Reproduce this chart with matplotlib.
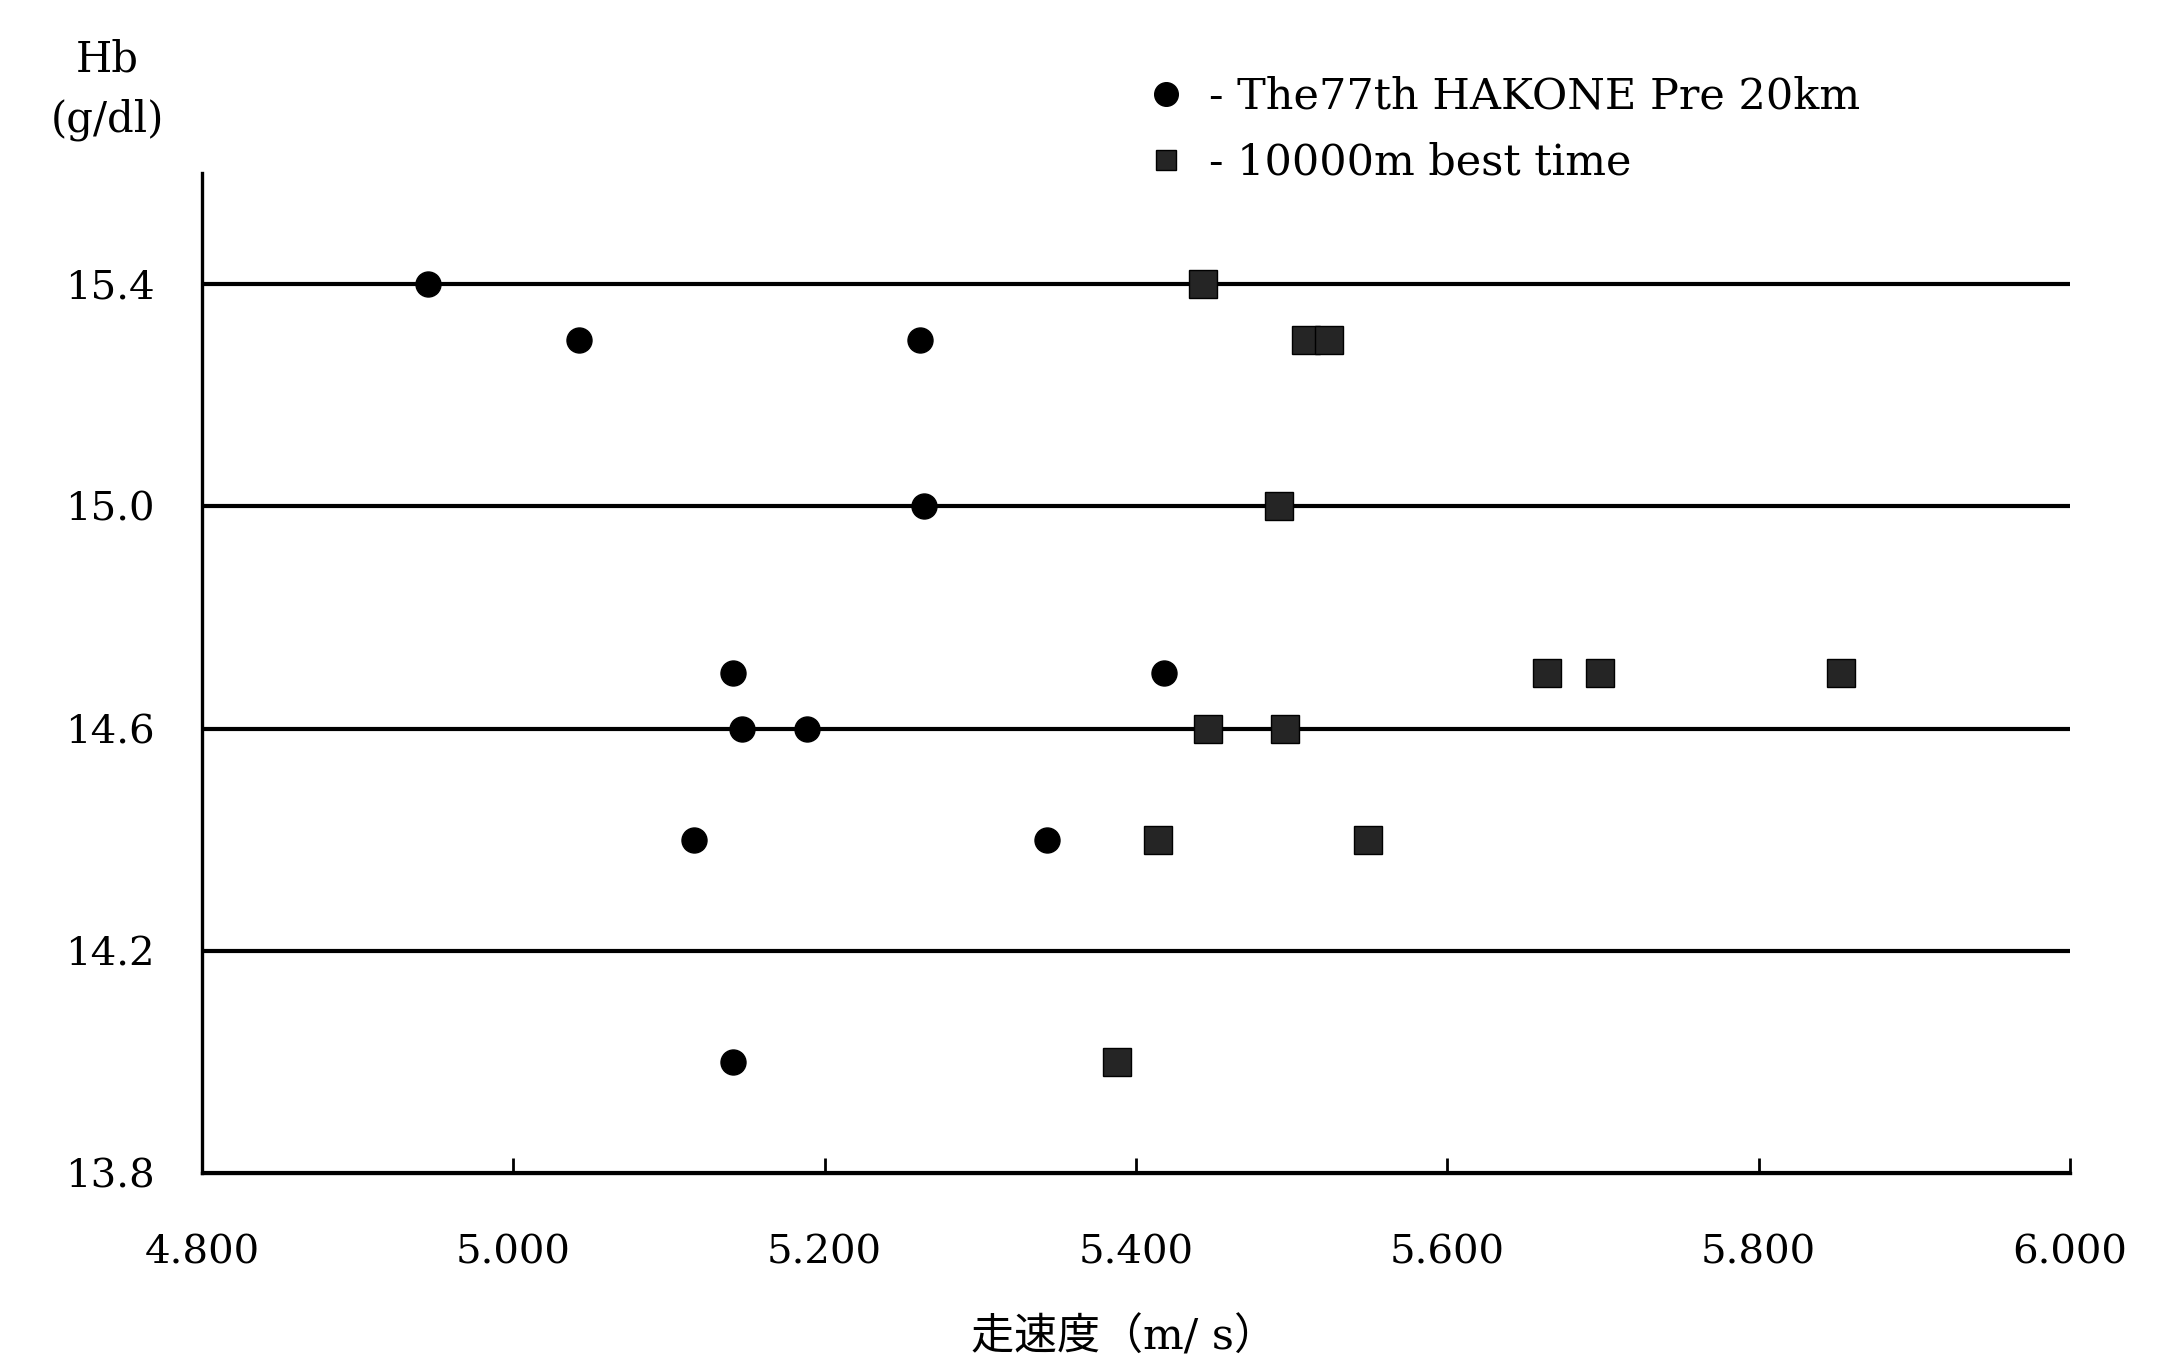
import matplotlib
matplotlib.use("Agg")
import matplotlib.pyplot as plt
from matplotlib.lines import Line2D

# ---- data ----
race_speed = [4.945, 5.042, 5.261, 5.264, 5.141, 5.418, 5.147, 5.189, 5.116, 5.343, 5.141]
race_hb = [15.4, 15.3, 15.3, 15.0, 14.7, 14.7, 14.6, 14.6, 14.4, 14.4, 14.0]

best_speed = [5.443, 5.509, 5.524, 5.492, 5.664, 5.698, 5.853, 5.446, 5.496, 5.414, 5.549, 5.388]
best_hb = [15.4, 15.3, 15.3, 15.0, 14.7, 14.7, 14.7, 14.6, 14.6, 14.4, 14.4, 14.0]

x_ticks = [4.8, 5.0, 5.2, 5.4, 5.6, 5.8, 6.0]
y_ticks = [13.8, 14.2, 14.6, 15.0, 15.4]
legend_labels = ["- The77th HAKONE Pre 20km", "- 10000m best time"]
x_label = "走速度（m/ s）"
y_label = "Hb\n(g/dl)"

SERIF = ["DejaVu Serif"]
MIXED = ["DejaVu Serif", "Noto Sans CJK JP"]

fig = plt.figure(figsize=(21.6, 13.57), dpi=100)
ax = fig.add_axes([0.0935, 0.1356, 0.8648, 0.7369])

ax.plot(race_speed, race_hb, linestyle="none", marker="o", markersize=18,
        color="black", zorder=3)
ax.plot(best_speed, best_hb, linestyle="none", marker="s", markersize=20,
        markerfacecolor="#252525", markeredgecolor="black", markeredgewidth=1.0,
        zorder=3)

ax.set_xlim(4.8, 6.0)
ax.set_ylim(13.8, 15.6)
ax.set_xticks(x_ticks)
ax.set_xticklabels([f"{v:.3f}" for v in x_ticks], fontsize=29, family=SERIF)
ax.set_yticks(y_ticks)
ax.set_yticklabels([f"{v:.1f}" for v in y_ticks], fontsize=29, family=SERIF)

ax.tick_params(axis="x", direction="in", length=11, width=2, pad=44, color="black")
ax.tick_params(axis="y", length=0, pad=34)

ax.yaxis.grid(True, color="black", linewidth=3.0)
ax.set_axisbelow(True)

for s in ["top", "right"]:
    ax.spines[s].set_visible(False)
for s in ["left", "bottom"]:
    ax.spines[s].set_linewidth(2.4)

handles = [
    Line2D([], [], linestyle="none", marker="o", markersize=17, color="black"),
    Line2D([], [], linestyle="none", marker="s", markersize=14,
           markerfacecolor="#252525", markeredgecolor="black"),
]
fig.legend(handles, legend_labels, loc="upper left", bbox_to_anchor=(0.530, 0.944),
           frameon=False, prop={"family": SERIF, "size": 31},
           handlelength=1.0, handletextpad=0.5, labelspacing=0.55,
           borderpad=0, borderaxespad=0)

fig.text(107 / 2160, 1 - 90 / 1357, y_label, ha="center", va="center",
         fontsize=30, family=SERIF, linespacing=1.55)
fig.text(1124 / 2160, 1 - 1337 / 1357, x_label, ha="center", va="center",
         fontsize=31, family=MIXED)

fig.savefig("out.png", dpi=100, facecolor="white")
